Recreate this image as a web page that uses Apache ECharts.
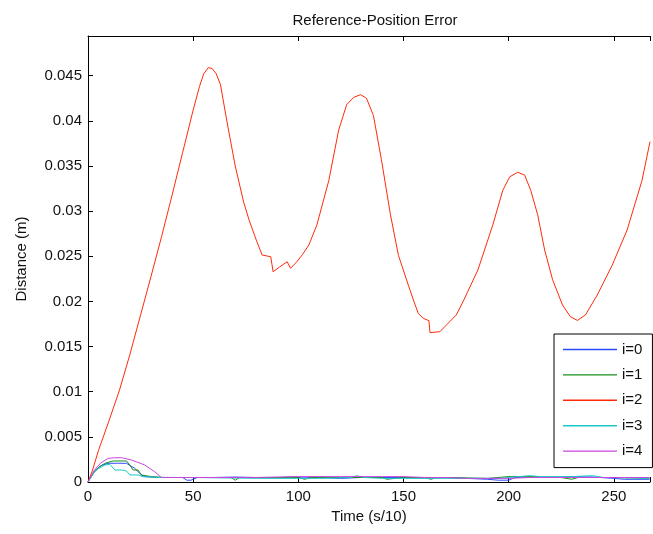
<!DOCTYPE html>
<html>
<head>
<meta charset="utf-8">
<script src="https://cdn.jsdelivr.net/npm/echarts@6/dist/echarts.min.js"></script>
<style>html,body{margin:0;padding:0;background:#fff}#c{width:653px;height:534px}</style>
</head>
<body>
<div id="c"></div>
<script>
// ---- data ----
var xTicks = [0, 50, 100, 150, 200, 250];
var yTicks = [0, 0.005, 0.01, 0.015, 0.02, 0.025, 0.03, 0.035, 0.04, 0.045];
var seriesNames = ['i=0', 'i=1', 'i=2', 'i=3', 'i=4'];

var t0 = [0,3,6,9.6,14,18.3,22.2,25.4,27,35,45,47,49,52,60,70,80,90,100,110,120,130,140,150,160,170,180,190,195,200,203,210,220,230,240,250,255,260,267];
var d0 = [0,0.0012,0.0018,0.00207,0.00208,0.00207,0.00152,0.00078,0.00059,0.0005,0.0005,0.0002,0.0002,0.0005,0.0005,0.00055,0.0005,0.0005,0.00055,0.0005,0.0004,0.0005,0.0005,0.0005,0.00045,0.0005,0.0004,0.0003,0.0002,0.0002,0.0005,0.00055,0.0005,0.0006,0.00055,0.0004,0.0003,0.0003,0.0003];

var t1 = [0,3,5,8,12,18.3,19.9,21.4,23.8,25.4,30,35,50,68,70,72,80,100,103,106,110,120,140,142,150,160,163,166,170,190,200,210,225,230,233,240,250,267];
var d1 = [0,0.0011,0.0016,0.00207,0.00233,0.00233,0.00188,0.00133,0.00133,0.00078,0.0006,0.0005,0.0005,0.0005,0.0002,0.0005,0.0005,0.0005,0.0003,0.0005,0.0005,0.0005,0.0005,0.0003,0.0005,0.0005,0.0003,0.0005,0.0005,0.0004,0.0006,0.0006,0.0005,0.0003,0.0005,0.0005,0.0005,0.0004];

var t2 = [0,2,5,10,15,20,25,30,35,40,45,50,53,55,57.2,59,61,63,66,70,74,76.6,80,82.8,86.9,88,91,94.7,96.3,99.3,102,105,108.8,114.5,119.2,123,126.3,129.6,132.4,135.7,139.5,143.8,147.6,152.3,154.7,157,159.4,162.1,162.6,167.3,171.2,175.1,178.3,185.4,192.5,197.2,200.5,204.3,207.6,210.5,213.8,217.1,220.9,225.6,229.4,232.7,236.5,242.1,249.2,256.3,263.4,267.2];
var d2 = [0,0.0012,0.0035,0.0068,0.0102,0.0142,0.0185,0.0228,0.0272,0.0318,0.0365,0.0412,0.0438,0.0452,0.0459,0.0458,0.0452,0.0440,0.0400,0.0350,0.0310,0.0290,0.0268,0.02514,0.02495,0.02329,0.0238,0.0244,0.02367,0.0244,0.0252,0.02625,0.02846,0.0334,0.039,0.0418,0.0426,0.0429,0.0425,0.0406,0.0357,0.0296,0.0251,0.0218,0.02016,0.01869,0.01813,0.01787,0.01654,0.01665,0.01758,0.0185,0.01997,0.0235,0.0285,0.0323,0.0338,0.0343,0.034,0.0323,0.0296,0.0257,0.0224,0.0196,0.0183,0.0179,0.0185,0.0207,0.024,0.0279,0.0334,0.0377];

var t3 = [0,3,5,8,10.4,12.8,15.9,18.3,19.9,23.8,26.2,35,50,80,100,110,125,128,131,140,160,180,195,205,210,215,230,240,245,250,267];
var d3 = [0,0.0011,0.0015,0.00188,0.00196,0.00133,0.00133,0.00122,0.00078,0.00078,0.00059,0.0005,0.0005,0.0004,0.0004,0.0004,0.0005,0.0007,0.0005,0.0004,0.0004,0.0004,0.0004,0.0006,0.0007,0.0006,0.0006,0.0007,0.0005,0.0005,0.0004];

var t4 = [0,3,6,9.6,12,15.9,20.7,27,31.7,34.8,40,60,80,100,120,140,150,160,170,180,190,200,210,220,240,260,267];
var d4 = [0,0.0013,0.0021,0.00262,0.00268,0.00269,0.00244,0.00188,0.00114,0.00052,0.0005,0.0005,0.0005,0.0006,0.0006,0.0006,0.0006,0.0005,0.0005,0.0004,0.0004,0.0004,0.0005,0.0005,0.0005,0.0005,0.0005];

var colors = ['#2a4bff', '#1a8f1a', '#ff2a0a', '#1ec8c8', '#cc44dd'];

// ---- build chart ----
function zip(t, d) { return t.map(function (v, i) { return [v, d[i]]; }); }
var allT = [t0, t1, t2, t3, t4];
var allD = [d0, d1, d2, d3, d4];
var FONT = "'Liberation Sans', Arial, sans-serif";
var xMin = xTicks[0], xMax = 267.2, xStep = xTicks[1] - xTicks[0];
var yMin = yTicks[0], yMax = 0.0494, yStep = yTicks[1] - yTicks[0];

function isTick(v, list) {
  for (var i = 0; i < list.length; i++) if (Math.abs(v - list[i]) < 1e-9) return true;
  return false;
}

var chart = echarts.init(document.getElementById('c'), null, { renderer: 'canvas' });
var axisLine = { show: true, lineStyle: { color: '#000', width: 1 } };
var axisTick = { show: true, inside: true, length: 5, lineStyle: { color: '#000', width: 1 } };

chart.setOption({
  animation: false,
  backgroundColor: '#fff',
  title: {
    text: 'Reference-Position Error',
    left: 370, top: 8, textAlign: 'center',
    textStyle: { fontFamily: FONT, fontSize: 15, fontWeight: 'normal', color: '#111' }
  },
  grid: { left: 88, right: 0, top: 36, bottom: 52, containLabel: false },
  legend: {
    orient: 'vertical',
    left: 554, top: 334,
    data: seriesNames,
    icon: 'path://M0,0 H54 V1.4 H0 Z',
    itemWidth: 54, itemHeight: 14, itemGap: 10.4,
    padding: [8, 10, 9, 9],
    borderColor: '#000', borderWidth: 1, borderRadius: 0,
    backgroundColor: '#fff',
    textStyle: { fontFamily: FONT, fontSize: 15, color: '#111' },
    z: 10
  },
  xAxis: [{
    type: 'value', min: xMin, max: xMax, interval: xStep,
    name: 'Time (s/10)', nameLocation: 'middle', nameGap: 27,
    nameTextStyle: { fontFamily: FONT, fontSize: 15, color: '#111' },
    axisLine: axisLine, axisTick: axisTick, splitLine: { show: false },
    axisLabel: {
      margin: 7, fontFamily: FONT, fontSize: 15, color: '#111',
      formatter: function (v) { return isTick(v, xTicks) ? String(v) : ''; }
    }
  }, {
    type: 'value', position: 'top', min: xMin, max: xMax, interval: xStep,
    axisLine: axisLine, axisTick: axisTick, splitLine: { show: false },
    axisLabel: { show: false }
  }],
  yAxis: {
    type: 'value', min: yMin, max: yMax, interval: yStep,
    name: 'Distance (m)', nameLocation: 'middle', nameGap: 59, nameRotate: 90,
    nameTextStyle: { fontFamily: FONT, fontSize: 15, color: '#111' },
    axisLine: axisLine, axisTick: axisTick, splitLine: { show: false },
    axisLabel: {
      margin: 6, fontFamily: FONT, fontSize: 15, color: '#111',
      formatter: function (v) { return isTick(v, yTicks) ? String(parseFloat(v.toFixed(4))) : ''; }
    }
  },
  series: seriesNames.map(function (n, i) {
    return {
      name: n, type: 'line', xAxisIndex: 0,
      data: zip(allT[i], allD[i]),
      symbol: 'none', showSymbol: false,
      lineStyle: { color: colors[i], width: 1 },
      itemStyle: { color: colors[i] },
      clip: true, z: 2 + i
    };
  })
});
</script>
</body>
</html>
